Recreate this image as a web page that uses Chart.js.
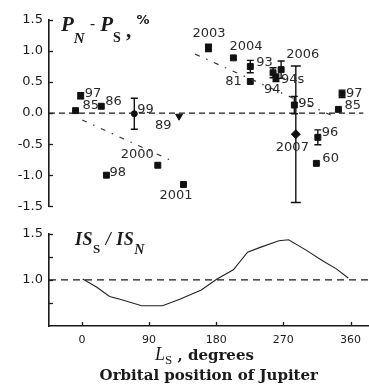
<!DOCTYPE html>
<html>
<head>
<meta charset="utf-8">
<script src="https://cdn.jsdelivr.net/npm/chart.js@4.4.1/dist/chart.umd.min.js"></script>
<style>
  body { margin: 0; background: #fff; }
  #wrap { position: relative; width: 369px; height: 385px; overflow: hidden; }
  canvas { position: absolute; left: 0; }
  #topChart { top: 0; }
  #bottomChart { top: 220px; }
  .ttl { position: absolute; white-space: nowrap; line-height: 1; color: #1a1a1a; font-family: "Liberation Serif", serif; }
  .ttl span { position: relative; }
</style>
</head>
<body>
<div id="wrap">
  <canvas id="topChart" width="369" height="220"></canvas>
  <canvas id="bottomChart" width="369" height="165"></canvas>
  <div class="ttl" style="left:61px;top:14px;font-size:21px;font-weight:bold;font-style:italic">P<span style="font-size:15px;top:12px">N</span> <span style="font-style:normal;font-size:15px;top:-3px">-</span> P<span style="font-size:14px;top:11px;font-style:normal">S</span> <span style="font-style:normal;top:6px">,</span> <span style="font-family:'DejaVu Sans';font-size:13px;font-style:normal;top:-7px">%</span></div>
  <div class="ttl" style="left:75px;top:230px;font-size:18px;font-weight:bold;font-style:italic;letter-spacing:0.5px">IS<span style="font-size:13px;top:8px;font-style:normal">S</span> / IS<span style="font-size:14px;top:9px">N</span></div>
  <div class="ttl" style="left:155px;top:345px;font-size:18px;font-style:italic">L<span style="font-size:13px;top:4px;font-style:normal">S</span><span style="font-family:'DejaVu Serif';font-weight:bold;font-style:normal;font-size:15px"> , degrees</span></div>
</div>
<script>
// Jupiter: difference north-south (%) vs orbital position Ls
const pointYears = ['85', '97', '86', '98', '99', '2000', '89', '2001', '2003', '2004', '93', '81', '94s', '94', '2006', '95', '2007', '96', '60', '85', '97'];
const pointLs = [-8, -1, 27, 34, 72, 104, 133, 139, 173, 207, 230, 230, 261, 265, 272, 290, 292, 322, 320, 350, 355];
const pointDiff = [0.04, 0.28, 0.11, -1.00, -0.01, -0.84, -0.05, -1.15, 1.05, 0.89, 0.75, 0.51, 0.65, 0.57, 0.70, 0.13, -0.34, -0.39, -0.81, 0.06, 0.31];
const pointErr = [0, 0.05, 0, 0, 0.25, 0, 0, 0, 0.06, 0, 0.10, 0, 0.08, 0.06, 0.14, 0.14, 1.10, 0.12, 0, 0, 0.06];

// dash-dot trend lines
const trend1Ls = [1, 127];
const trend1Diff = [-0.11, -0.79];
const trend2Ls = [155, 345];
const trend2Diff = [0.95, -0.06];

// insolation ratio IS_S / IS_N
const isLs = [1, 20, 37, 51, 80, 108, 131, 160, 181, 203, 222, 238, 264, 277, 301, 322, 341, 357];
const isRatio = [1.01, 0.92, 0.82, 0.79, 0.72, 0.72, 0.79, 0.89, 1.01, 1.11, 1.30, 1.35, 1.425, 1.435, 1.32, 1.21, 1.12, 1.02];

const xTicks = [0, 90, 180, 270, 360];
const topYTicks = [-1.5, -1.0, -0.5, 0.0, 0.5, 1.0, 1.5];
const bottomYTicks = [0.5, 0.75, 1.0, 1.25, 1.5];
const bottomYLabels = [1.0, 1.5];

// look of the markers and where the year labels sit
const pointShapes = pointYears.map((y, i) => i === 4 ? 'circle' : i === 16 ? 'rectRot' : i === 6 ? 'triangle' : 'rect');
const pointSizes = pointYears.map((y, i) => i === 4 ? 3 : i === 16 ? 4.5 : i === 6 ? 4 : 4.2);
const labelDx = [7, 4, 4, 3, 3, -37, -24, -24, -16, -4, 6, -25, 8, -12, 5, 4, -20, 4, 6, 6, 4];
const labelDy = [-5, -2, -5, -3, -4, -11, 9, 11, -14, -11, -4, 0, 7, 12, -15, -1, 13, -5, -5, -4, 0];

const xMin = -44.2, xMax = 384.2;
const ink = '#1a1a1a';
const tickFont = { family: 'DejaVu Sans', size: 13 };

const toXY = (xs, ys) => xs.map((x, i) => ({ x: x, y: ys[i] }));

// small ticks pointing into the plot
const innerTicks = {
  id: 'innerTicks',
  afterDraw(chart, args, opts) {
    const ctx = chart.ctx;
    ctx.save();
    ctx.strokeStyle = ink;
    ctx.lineWidth = 1.3;
    const ys = chart.scales.y;
    ys.ticks.forEach(t => {
      if (opts.skipMin && t.value === ys.min) return;
      const p = Math.round(ys.getPixelForValue(t.value)) + 0.5;
      ctx.beginPath();
      ctx.moveTo(ys.right, p);
      ctx.lineTo(ys.right + 4, p);
      ctx.stroke();
    });
    const xs = chart.scales.x;
    if (xs.options.display) {
      xs.ticks.forEach(t => {
        const p = Math.round(xs.getPixelForValue(t.value)) + 0.5;
        ctx.beginPath();
        ctx.moveTo(p, xs.top);
        ctx.lineTo(p, xs.top - 4);
        ctx.stroke();
      });
    }
    ctx.restore();
  }
};

// error bars and year labels for the points dataset
const pointExtras = {
  id: 'pointExtras',
  afterDatasetsDraw(chart) {
    const meta = chart.getDatasetMeta(3);
    const ys = chart.scales.y;
    const ctx = chart.ctx;
    ctx.save();
    ctx.strokeStyle = '#111';
    ctx.lineWidth = 1.4;
    meta.data.forEach((pt, i) => {
      const e = pointErr[i];
      if (!e) return;
      const y1 = ys.getPixelForValue(pointDiff[i] + e);
      const y2 = ys.getPixelForValue(pointDiff[i] - e);
      const cap = e > 0.5 ? 5 : 3.5;
      ctx.beginPath();
      ctx.moveTo(pt.x, y1); ctx.lineTo(pt.x, y2);
      ctx.moveTo(pt.x - cap, y1); ctx.lineTo(pt.x + cap, y1);
      ctx.moveTo(pt.x - cap, y2); ctx.lineTo(pt.x + cap, y2);
      ctx.stroke();
    });
    ctx.fillStyle = '#2a2a2a';
    ctx.font = '13px "DejaVu Sans"';
    ctx.textAlign = 'left';
    ctx.textBaseline = 'middle';
    meta.data.forEach((pt, i) => {
      ctx.fillText(pointYears[i], pt.x + labelDx[i], pt.y + labelDy[i]);
    });
    ctx.restore();
  }
};

new Chart(document.getElementById('topChart'), {
  type: 'scatter',
  data: {
    datasets: [{
      data: toXY([xMin, xMax], [0, 0]),
      showLine: true, borderColor: ink, borderWidth: 1.3, borderDash: [6, 4], pointRadius: 0
    }, {
      data: toXY(trend1Ls, trend1Diff),
      showLine: true, borderColor: '#333', borderWidth: 1.2, borderDash: [5, 7, 1.5, 7], pointRadius: 0
    }, {
      data: toXY(trend2Ls, trend2Diff),
      showLine: true, borderColor: '#333', borderWidth: 1.2, borderDash: [5, 7, 1.5, 7], pointRadius: 0
    }, {
      data: toXY(pointLs, pointDiff),
      showLine: false,
      pointStyle: pointShapes,
      pointRadius: pointSizes,
      pointRotation: pointYears.map((y, i) => i === 6 ? 180 : 0),
      backgroundColor: '#111', borderColor: '#111', borderWidth: 1
    }]
  },
  options: {
    responsive: false,
    animation: false,
    layout: { padding: { top: 20, bottom: 9, left: 0, right: 0 } },
    plugins: { legend: { display: false }, tooltip: { enabled: false }, innerTicks: { skipMin: false } },
    scales: {
      x: { type: 'linear', display: false, min: xMin, max: xMax },
      y: {
        min: -1.5, max: 1.5,
        afterFit: s => { s.width = 49; },
        afterBuildTicks: s => { s.ticks = topYTicks.map(v => ({ value: v })); },
        ticks: { padding: 6, color: ink, font: tickFont, callback: v => v.toFixed(1) },
        grid: { display: false, drawTicks: false },
        border: { display: true, color: ink, width: 1.6 }
      }
    }
  },
  plugins: [innerTicks, pointExtras]
});

new Chart(document.getElementById('bottomChart'), {
  type: 'scatter',
  data: {
    datasets: [{
      data: toXY([xMin, xMax], [1, 1]),
      showLine: true, borderColor: ink, borderWidth: 1.3, borderDash: [7, 5], pointRadius: 0
    }, {
      data: toXY(isLs, isRatio),
      showLine: true, borderColor: '#222', borderWidth: 1.1, pointRadius: 0, tension: 0
    }]
  },
  options: {
    responsive: false,
    animation: false,
    layout: { padding: { top: 13, bottom: 0, left: 0, right: 0 } },
    plugins: { legend: { display: false }, tooltip: { enabled: false }, innerTicks: { skipMin: true } },
    scales: {
      x: {
        type: 'linear', min: xMin, max: xMax,
        afterFit: s => { s.height = 59; },
        afterBuildTicks: s => { s.ticks = xTicks.map(v => ({ value: v })); },
        ticks: { padding: 8, color: ink, font: { family: 'DejaVu Sans', size: 11 }, maxRotation: 0 },
        grid: { display: false, drawTicks: false },
        border: { display: true, color: ink, width: 1.6 },
        title: {
          display: true, text: 'Orbital position of Jupiter', color: '#1a1a1a',
          font: { family: 'DejaVu Serif', weight: 'bold', size: 15 },
          padding: { top: 0, bottom: 0 }
        }
      },
      y: {
        min: 0.5, max: 1.5,
        afterFit: s => { s.width = 49; },
        afterBuildTicks: s => { s.ticks = bottomYTicks.map(v => ({ value: v })); },
        ticks: { padding: 6, color: ink, font: tickFont, callback: v => bottomYLabels.includes(v) ? v.toFixed(1) : '' },
        grid: { display: false, drawTicks: false },
        border: { display: true, color: ink, width: 1.6 }
      }
    }
  },
  plugins: [innerTicks]
});
</script>
</body>
</html>
